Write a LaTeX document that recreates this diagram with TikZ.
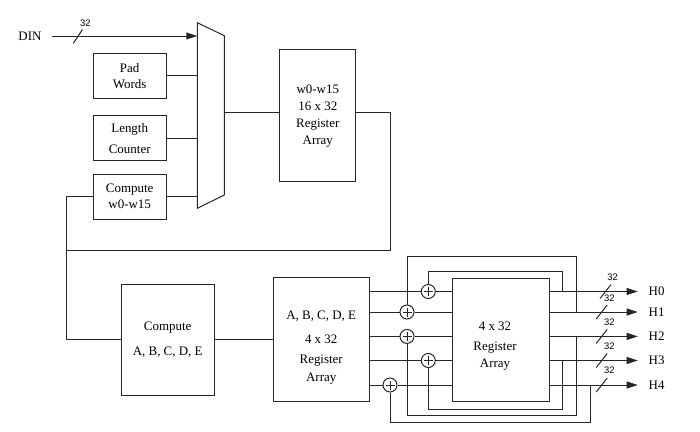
\documentclass[tikz,border=0pt]{standalone}
\usepackage{fontspec}
\setmainfont{Liberation Serif}
\newfontfamily\labfont{Liberation Sans}
\usetikzlibrary{arrows.meta}
\begin{document}
\begin{tikzpicture}[x=1bp,y=-1bp,
  wire/.style={line width=1bp, draw=black!85},
  arr/.style={wire, -{Triangle[length=11bp,width=7bp]}},
  box/.style={draw=black!85, line width=1bp, inner sep=0pt, align=center, font=\fontsize{13}{16}\selectfont},
  txt/.style={inner sep=0pt, align=center, font=\fontsize{13}{16}\selectfont},
  buslab/.style={inner sep=0pt, font=\labfont\fontsize{9.5}{10}\selectfont},
  adder/.style={circle, draw=black!85, line width=1bp, minimum size=14bp, inner sep=0pt,
    path picture={\draw[line width=0.9bp] (path picture bounding box.center) ++(-4.5bp,0) -- ++(9bp,0)
      (path picture bounding box.center) ++(0,-4.5bp) -- ++(0,9bp);}}
]
\useasboundingbox (0,0) rectangle (700,431);

% ---- upper part
\node[txt] (din) at (30,36) {DIN};
\coordinate (dins) at (52,36);
\coordinate (m1) at (197.3,22.7);
\coordinate (m2) at (224.3,35.7);
\coordinate (m3) at (224.3,195);
\coordinate (m4) at (197.3,208.3);
\draw[wire] (m1) -- (m2) -- (m3) -- (m4) -- cycle;
\draw[arr] (dins) -- (dins -| m1);
\draw[wire] (73.3,43.3) -- (82.5,29.5);
\node[buslab] (l32din) at (85.3,23.3) {32};

\node[box, minimum width=72.7bp, minimum height=45bp] (pad) at (129.7,75.8) {Pad\\Words};
\node[box, minimum width=72.7bp, minimum height=45bp, font=\fontsize{13}{21}\selectfont] (len) at (129.7,138.2) {Length\\Counter};
\node[box, minimum width=72.7bp, minimum height=45bp, font=\fontsize{13}{15.6}\selectfont] (cw) at (129.7,196.5) {Compute\\w0-w15};
\draw[wire] (pad.east) -- (pad.east -| m1);
\draw[wire] (len.east) -- (len.east -| m1);
\draw[wire] (cw.east) -- (cw.east -| m1);

\node[box, minimum width=75.7bp, minimum height=131.7bp, font=\fontsize{13}{17}\selectfont] (reg16) at (317.8,115.8) {w0-w15\\16 x 32\\Register\\Array};
\coordinate (muxout) at (224.3,112);
\draw[wire] (muxout) -- (muxout -| reg16.west);

\coordinate (loopR) at (390,250);
\coordinate (loopL) at (66.7,250);
\draw[wire] (reg16.east |- muxout) -| (loopR) -- (loopL);

% ---- lower part
\node[box, minimum width=93.3bp, minimum height=110.7bp, font=\fontsize{13}{24.3}\selectfont] (cabc) at (167.7,339.7) {Compute\\A, B, C, D, E};
\draw[wire] (cw.west) -| (loopL) |- (cabc.west);

\node[box, minimum width=96.3bp, minimum height=124bp] (rabc) at (321.2,339.7) {};
\node[txt, font=\fontsize{13}{18}\selectfont] (rabct) at (321.2,347.5) {A, B, C, D, E\\[6.3pt]4 x 32\\[2.7pt]Register\\Array};
\draw[wire] (cabc.east) -- (rabc.west);

\node[box, minimum width=96.7bp, minimum height=123.4bp] (r4) at (500.7,340) {};
\node[txt, font=\fontsize{13}{16.6}\selectfont] (r4t) at (495,346) {4 x 32\\[4.1pt]Register\\Array};

% rows
\coordinate (s0) at (369.3,291.5); \coordinate (w0) at (452.3,291.5); \coordinate (o0) at (549,291.5); \coordinate (e0) at (637.7,291.5);
\coordinate (s1) at (369.3,312);   \coordinate (w1) at (452.3,312);   \coordinate (o1) at (549,312);   \coordinate (e1) at (637.7,312);
\coordinate (s2) at (369.3,336.4); \coordinate (w2) at (452.3,336.4); \coordinate (o2) at (549,336.4); \coordinate (e2) at (637.7,336.4);
\coordinate (s3) at (369.3,360.5); \coordinate (w3) at (452.3,360.5); \coordinate (o3) at (549,360.5); \coordinate (e3) at (637.7,360.5);
\coordinate (s4) at (369.3,385);   \coordinate (w4) at (452.3,385);   \coordinate (o4) at (549,385);   \coordinate (e4) at (637.7,385);

\node[adder] (a0) at (428.3,291.5) {};
\node[adder] (a1) at (407,312) {};
\node[adder] (a2) at (407,336.4) {};
\node[adder] (a3) at (428.3,360.5) {};
\node[adder] (a4) at (390,385) {};

\draw[wire] (s0) -- (a0) -- (w0);
\draw[wire] (s1) -- (a1) -- (w1);
\draw[wire] (s2) -- (a2) -- (w2);
\draw[wire] (s3) -- (a3) -- (w3);
\draw[wire] (s4) -- (a4) -- (w4);

% feedback loops
\coordinate (t0) at (562.3,271);
\coordinate (t1) at (576.3,256.7);
\coordinate (b2) at (576.3,415);
\coordinate (b3) at (562.3,409);
\coordinate (b4) at (590,422.5);
\draw[wire] (a0.north) |- (t0) -- (t0 |- o0);
\draw[wire] (a1.north) |- (t1) -- (t1 |- o1);
\draw[wire] (a2.south) |- (b2) -- (b2 |- o2);
\draw[wire] (a3.south) |- (b3) -- (b3 |- o3);
\draw[wire] (a4.south) |- (b4) -- (b4 |- o4);

% outputs
\draw[arr] (o0) -- (e0);
\draw[arr] (o1) -- (e1);
\draw[arr] (o2) -- (e2);
\draw[arr] (o3) -- (e3);
\draw[arr] (o4) -- (e4);

\draw[wire] (605.5,291.5) ++(-5.5,7) -- ++(11,-14);
\draw[wire] (601.7,312) ++(-5.5,7) -- ++(11,-14);
\draw[wire] (601.7,336.4) ++(-5.5,7) -- ++(11,-14);
\draw[wire] (601.7,360.5) ++(-5.5,7) -- ++(11,-14);
\draw[wire] (601.7,385) ++(-5.5,7) -- ++(11,-14);
\node[buslab] (l0) at (612.7,277.7) {32};
\node[buslab] (l1) at (609.3,298.3) {32};
\node[buslab] (l2) at (609.3,322.3) {32};
\node[buslab] (l3) at (609.3,346.7) {32};
\node[buslab] (l4) at (609.3,370.7) {32};

\node[txt, anchor=west] (h0) at (648.5,291.5) {H0};
\node[txt, anchor=west] (h1) at (648.5,312) {H1};
\node[txt, anchor=west] (h2) at (648.5,336.4) {H2};
\node[txt, anchor=west] (h3) at (648.5,360.5) {H3};
\node[txt, anchor=west] (h4) at (648.5,385) {H4};
\end{tikzpicture}
\end{document}
